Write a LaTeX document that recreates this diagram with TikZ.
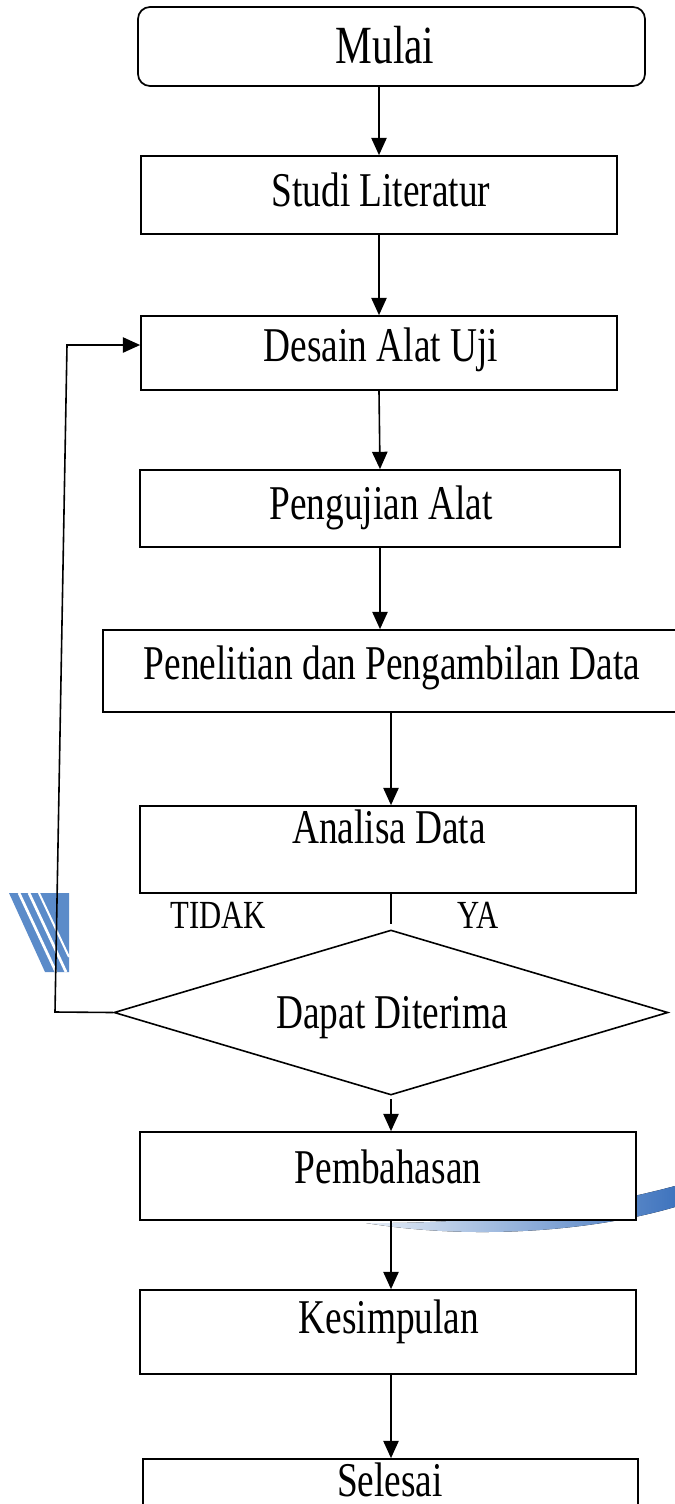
\documentclass[tikz,border=0pt]{standalone}
\usepackage{fontspec}
\setmainfont{Liberation Serif}
\usetikzlibrary{arrows.meta,fit,shapes.geometric}
\definecolor{wmblue}{HTML}{5B8BC9}
\definecolor{wmdark}{HTML}{3F74BE}
\newcommand{\tall}[1]{\scalebox{1}[1.3]{#1}}
\begin{document}
\begin{tikzpicture}[x=0.75pt,y=-0.75pt,
  box/.style={draw,line width=1.3pt,fill=white,inner sep=0pt},
  txt/.style={inner sep=0pt,anchor=base,font=\fontsize{28}{32}\selectfont},
  bigtxt/.style={inner sep=0pt,anchor=base,font=\fontsize{31}{36}\selectfont},
  lbl/.style={inner sep=0pt,anchor=base,font=\fontsize{23}{26}\selectfont},
  flow/.style={line width=1.2pt,-{Triangle[length=13pt,width=11.5pt]}},
  plain/.style={line width=1.2pt}]
\useasboundingbox (0,0) rectangle (675,1504);
\fill[white] (0,0) rectangle (675,1504);

% watermark pieces
\fill[wmblue] (9,893) -- (69,893) -- (69,972) -- (45,972) -- cycle;
\draw[white,line width=2pt] (19,893) -- (56,972);
\draw[white,line width=2pt] (29,893) -- (66,972);
\draw[white,line width=1.5pt] (39,893) -- (69,957);
\fill[left color=wmblue!15,right color=wmdark]
  (366,1223) .. controls (460,1224) and (570,1214) .. (675,1186)
  -- (675,1207) .. controls (590,1232) and (470,1240) .. (366,1223) -- cycle;

% boxes
\node[box,rounded corners=9pt,fit={(138,7) (645,86)}] (mulai) {};
\node[bigtxt] (tmulai) at (385,63) {\tall{Mulai}};
\node[box,fit={(141,156) (617,234)}] (studi) {};
\node[txt] (tstudi) at (381,206) {\tall{Studi Literatur}};
\node[box,fit={(141,316) (617,390)}] (desain) {};
\node[txt] (tdesain) at (381,361) {\tall{Desain Alat Uji}};
\node[box,fit={(140,470) (620,547)}] (uji) {};
\node[txt] (tuji) at (381,519) {\tall{Pengujian Alat}};
\node[box,fit={(103,630) (681,712)}] (penel) {};
\node[txt] (tpenel) at (392,679) {\tall{Penelitian dan Pengambilan Data}};
\node[box,fit={(140,806) (636,893)}] (analisa) {};
\node[txt] (tanalisa) at (389,843) {\tall{Analisa Data}};
\node[draw,line width=1.2pt,fill=white,diamond,inner sep=0pt,
      minimum width=415.5pt,minimum height=123.75pt] (dec) at (391,1012.5) {};
\node[txt] (tdec) at (392,1028) {\tall{Dapat Diterima}};
\node[lbl] (tidak) at (218,928) {\tall{TIDAK}};
\node[lbl] (ya) at (478,928) {\tall{YA}};
\node[box,fit={(140,1132) (636,1220)}] (pemb) {};
\node[txt] (tpemb) at (388,1183) {\tall{Pembahasan}};
\node[box,fit={(140,1290) (636,1374)}] (kesim) {};
\node[txt] (tkesim) at (389,1333) {\tall{Kesimpulan}};
\node[box,fit={(143,1459) (638,1540)}] (selesai) {};
\node[txt] (tselesai) at (390,1496) {\tall{Selesai}};

% connectors
\coordinate (dgap) at (391,924);
\coordinate (dbot) at (391,1099);
\coordinate (loopa) at (55,1012);
\coordinate (loopb) at (67,345);
\draw[flow] (mulai.south -| studi.north) -- (studi.north);
\draw[flow] (studi.south) -- (desain.north);
\draw[flow] (desain.south) -- (uji.north);
\draw[flow] (uji.south) -- (uji.south |- penel.north);
\draw[flow] (penel.south -| dgap) -- (analisa.north -| dgap);
\draw[plain] (analisa.south -| dgap) -- (dgap);
\draw[flow] (dbot) -- (pemb.north -| dbot);
\draw[flow] (pemb.south -| dbot) -- (kesim.north -| dbot);
\draw[flow] (kesim.south -| dbot) -- (selesai.north -| dbot);
\draw[flow] (dec.west) -- (loopa) -- (loopb) -- (loopb -| desain.west);
\end{tikzpicture}
\end{document}
